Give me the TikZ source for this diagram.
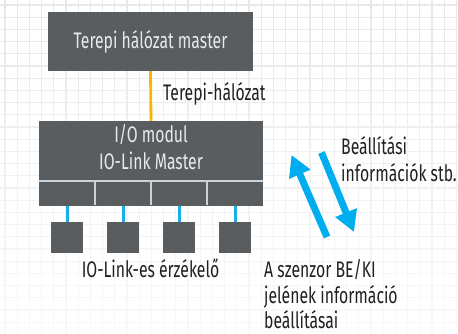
\documentclass[tikz,border=0pt]{standalone}
\usepackage{fontspec}
\setmainfont{Fira Sans}[FakeStretch=0.70]
\usetikzlibrary{arrows.meta}
\definecolor{boxgray}{HTML}{5A5D60}
\definecolor{boxtext}{HTML}{E8E9EA}
\definecolor{divider}{HTML}{C9D3D8}
\definecolor{fieldbus}{HTML}{F5B700}
\definecolor{iolink}{HTML}{1AAEE8}
\definecolor{arrowblue}{HTML}{00AEEF}
\definecolor{ink}{HTML}{231F20}
\tikzset{
  box/.style={fill=boxgray, text=boxtext, inner sep=0pt, font=\fontsize{22.5}{27}\selectfont},
  lbl/.style={text=ink, inner sep=0pt, font=\fontsize{22.5}{26.5}\selectfont},
  sigarrow/.style={arrowblue, line width=7pt, -{Triangle[length=21pt,width=22pt]}},
}
\begin{document}
\begin{tikzpicture}[x=1pt,y=-1pt]
\useasboundingbox[fill=white] (0,0) rectangle (458,333);
% grid background
\foreach \i in {0,...,27}{
  \pgfmathsetmacro\yy{5+12.2*\i}
  \pgfmathsetmacro\p{9-6.5*\yy/333}
  \draw[black!\p, line width=1.1pt] (0,\yy) -- (458,\yy);
  \foreach \j in {0,...,37}{
    \pgfmathsetmacro\xx{5+12.2*\j}
    \draw[black!\p, line width=1.1pt] (\xx,\yy-6.1) -- (\xx,\yy+6.1);
  }
}
% master
\node[box, minimum width=205pt, minimum height=59pt] (master) at (150.5,41.5) {Terepi hálózat master};
% io module
\node[box, minimum width=224pt, minimum height=59pt] (io) at (151,150.5)
  {\raisebox{-2pt}{\begin{tabular}{@{}c@{}}I/O modul\\IO-Link Master\end{tabular}}};
\foreach \k/\x in {1/67,2/123,3/179,4/235}{
  \node[box, minimum width=56pt, minimum height=26pt] (c\k) at (\x,193) {};
  \node[box, minimum width=32pt, minimum height=31pt] (s\k) at (\x,237.3) {};
  \draw[iolink, line width=3pt] (c\k.south) -- (s\k.north);
}
\draw[divider, line width=1.5pt] ([yshift=-1pt]c1.north west) -- ([yshift=-1pt]c4.north east);
\foreach \k in {1,2,3}{
  \draw[divider, line width=1.5pt] ([yshift=-1pt]c\k.north east) -- ([yshift=1pt]c\k.south east);
}
% fieldbus
\draw[fieldbus, line width=2.8pt] (master.south) -- (io.north);
\node[lbl, anchor=base west] (fb) at (163,100) {Terepi-hálózat};
\node[lbl, anchor=base] (sl) at (150.5,277) {IO-Link-es érzékelő};
\node[lbl, anchor=base west, align=left] (set) at (341,181) {Beállítási\\információk stb.};
\node[lbl, anchor=base west, align=left, font=\fontsize{22.5}{25.5}\selectfont] (info) at (264,328.5) {A szenzor BE/KI\\jelének információ\\beállításai};
% arrows
\coordinate (upT) at (327,237);
\coordinate (upH) at (291.5,155);
\coordinate (dnT) at (321.5,152.5);
\coordinate (dnH) at (354,232);
\draw[sigarrow] (upT) -- (upH);
\draw[sigarrow] (dnT) -- (dnH);
\end{tikzpicture}
\end{document}
